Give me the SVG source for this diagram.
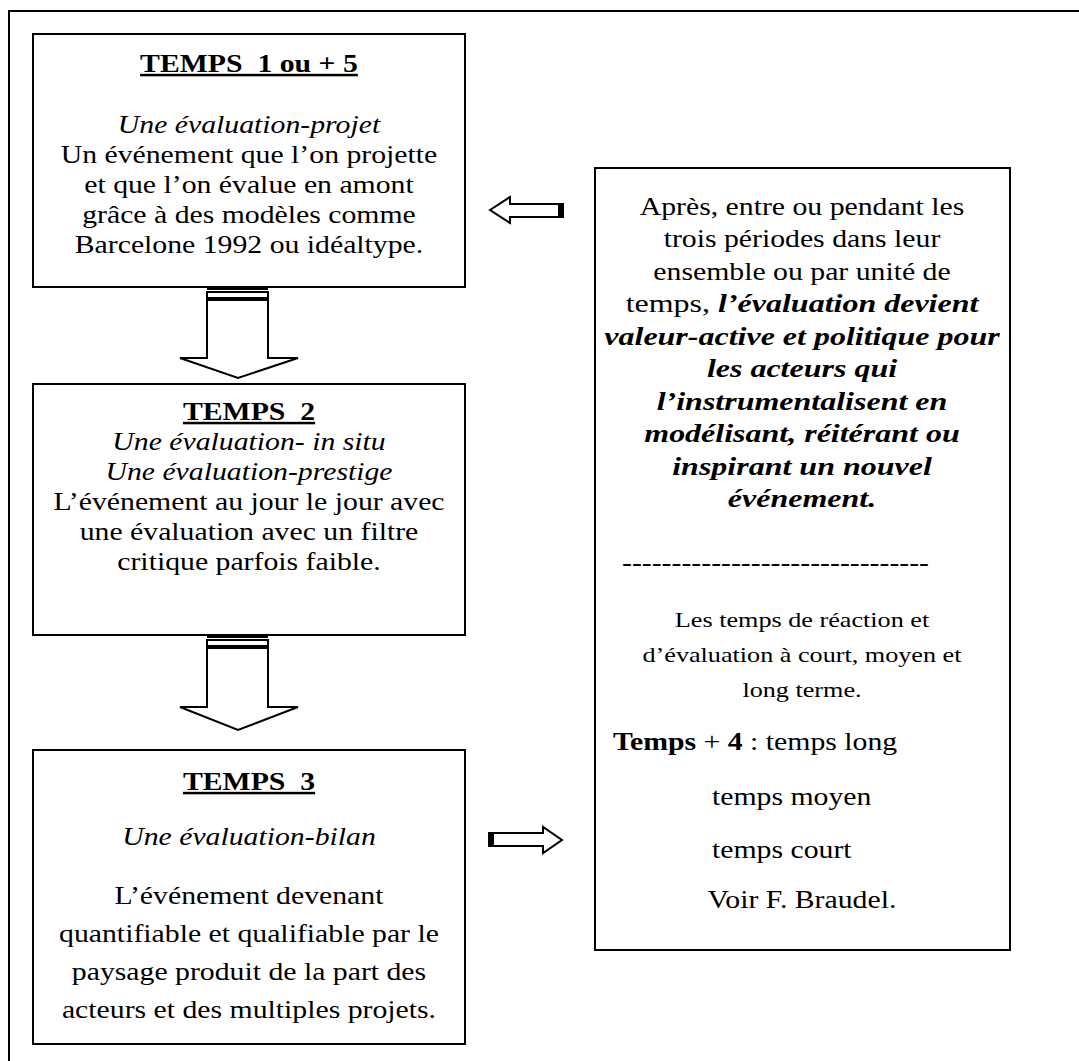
<svg xmlns="http://www.w3.org/2000/svg" width="1079" height="1061" viewBox="0 0 1079 1061">
<style>
.box{fill:#fff;stroke:#000;stroke-width:2}
.arr{fill:#fff;stroke:#000;stroke-width:2;stroke-linejoin:miter}
text{font-family:"Liberation Serif","Times New Roman",serif;font-size:25px;fill:#000}
.c{text-anchor:middle}
.b{font-weight:bold}
.i{font-style:italic}
.bi{font-weight:bold;font-style:italic}
.u{text-decoration:underline}
.s{font-size:22px}
</style>
<rect x="9" y="11" width="1100" height="1100" fill="none" stroke="#000" stroke-width="2"/>
<g id="connectors">
  <g id="down1">
    <rect x="207" y="287" width="61" height="3" fill="#000"/>
    <rect x="207" y="292" width="61" height="6" class="arr"/>
    <polygon class="arr" points="207,300 268,300 268,358 298,358 238,378 180,358 207,358"/>
  </g>
  <g id="down2">
    <rect x="207" y="635" width="61" height="3" fill="#000"/>
    <rect x="207" y="640" width="61" height="6" class="arr"/>
    <polygon class="arr" points="207,648 268,648 268,707 298,707 238,730 180,707 207,707"/>
  </g>
  <g id="left-arrow">
    <polygon class="arr" points="490,210 510,197 510,204 563,204 563,217 510,217 510,223"/>
    <rect x="558" y="204" width="5" height="13" fill="#000"/>
  </g>
  <g id="right-arrow">
    <polygon class="arr" points="562,840 543,827 543,833 489,833 489,846 543,846 543,853"/>
    <rect x="489" y="833" width="5" height="13" fill="#000"/>
  </g>
</g>
<g id="temps1">
  <rect class="box" x="33" y="34" width="432" height="253"/>
  <g transform="scale(1.19 1)">
    <text class="c b u" x="209.24" y="72" xml:space="preserve">TEMPS  1 ou + 5</text>
    <text class="c i" x="209.24" y="133">Une évaluation-projet</text>
    <text class="c" x="209.24" y="163">Un événement que l’on projette</text>
    <text class="c" x="209.24" y="193">et que l’on évalue en amont</text>
    <text class="c" x="209.24" y="223">grâce à des modèles comme</text>
    <text class="c" x="209.24" y="253">Barcelone 1992 ou idéaltype.</text>
  </g>
</g>
<g id="temps2">
  <rect class="box" x="33" y="384" width="432" height="251"/>
  <g transform="scale(1.19 1)">
    <text class="c b u" x="209.24" y="420" xml:space="preserve">TEMPS  2</text>
    <text class="c i" x="209.24" y="450">Une évaluation- in situ</text>
    <text class="c i" x="209.24" y="480">Une évaluation-prestige</text>
    <text class="c" x="209.24" y="510">L’événement au jour le jour avec</text>
    <text class="c" x="209.24" y="540">une évaluation avec un filtre</text>
    <text class="c" x="209.24" y="570">critique parfois faible.</text>
  </g>
</g>
<g id="temps3">
  <rect class="box" x="33" y="750" width="432" height="294"/>
  <g transform="scale(1.19 1)">
    <text class="c b u" x="209.24" y="790" xml:space="preserve">TEMPS  3</text>
    <text class="c i" x="209.24" y="845">Une évaluation-bilan</text>
    <text class="c" x="209.24" y="904">L’événement devenant</text>
    <text class="c" x="209.24" y="942">quantifiable et qualifiable par le</text>
    <text class="c" x="209.24" y="980">paysage produit de la part des</text>
    <text class="c" x="209.24" y="1018">acteurs et des multiples projets.</text>
  </g>
</g>
<g id="evaluation">
  <rect class="box" x="595" y="168" width="415" height="782"/>
  <g transform="scale(1.19 1)">
    <text class="c" x="673.95" y="215">Après, entre ou pendant les</text>
    <text class="c" x="673.95" y="247.5">trois périodes dans leur</text>
    <text class="c" x="673.95" y="280">ensemble ou par unité de</text>
  </g>
  <g transform="scale(1.28 1)">
    <text class="c" x="626.56" y="312.5">temps, <tspan class="bi">l’évaluation devient</tspan></text>
    <text class="c bi" x="626.56" y="345">valeur-active et politique pour</text>
    <text class="c bi" x="626.56" y="377.5">les acteurs qui</text>
    <text class="c bi" x="626.56" y="410">l’instrumentalisent en</text>
    <text class="c bi" x="626.56" y="442.5">modélisant, réitérant ou</text>
    <text class="c bi" x="626.56" y="475">inspirant un nouvel</text>
    <text class="c bi" x="626.56" y="507.5">événement.</text>
  </g>
  <g transform="scale(1.19 1)">
    <text x="522.7" y="571">-------------------------------</text>
    <text class="c s" x="673.95" y="627">Les temps de réaction et</text>
    <text class="c s" x="673.95" y="662">d’évaluation à court, moyen et</text>
    <text class="c s" x="673.95" y="697">long terme.</text>
    <text x="515.1" y="750" xml:space="preserve"><tspan class="b">Temps</tspan> + <tspan class="b">4</tspan> : temps long</text>
    <text x="598.3" y="805">temps moyen</text>
    <text x="598.3" y="858">temps court</text>
    <text class="c" x="673.95" y="908">Voir F. Braudel.</text>
  </g>
</g>
</svg>
